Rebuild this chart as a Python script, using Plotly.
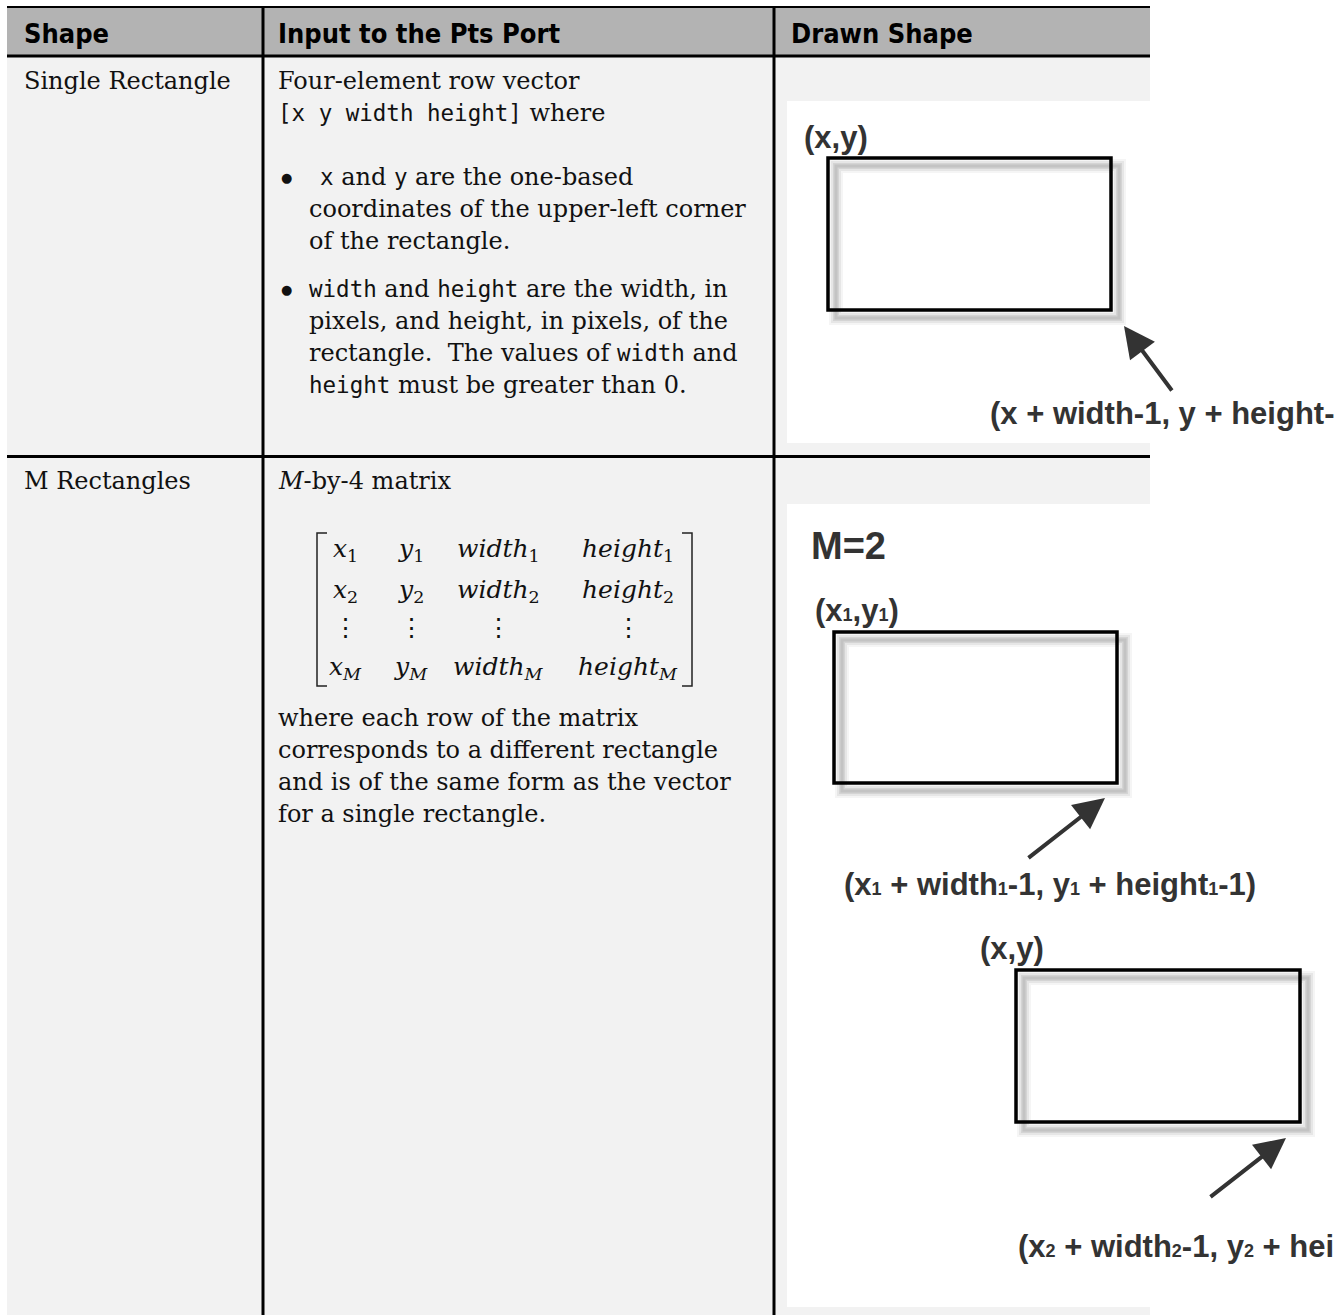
import plotly.graph_objects as go

W, H = 1337, 1315

# ---------------- content ----------------
headers = ["Shape", "Input to the Pts Port", "Drawn Shape"]
shape_names = ["Single Rectangle", "M Rectangles"]

MONO = "font-family:DejaVu Sans Mono;font-size:22.5px"
def code(s):
    return f'<span style="{MONO}">{s}</span>'

row1_intro = ["Four-element row vector", code("[x y width height]") + " where"]
row1_bullets = [
    [f"{code('x')} and {code('y')} are the one-based",
     "coordinates of the upper-left corner",
     "of the rectangle."],
    [f"{code('width')} and {code('height')} are the width, in",
     "pixels, and height, in pixels, of the",
     f"rectangle.  The values of {code('width')} and",
     f"{code('height')} must be greater than 0."],
]
row2_intro = "<i>M</i>-by-4 matrix"
matrix_names = ["x", "y", "width", "height"]
matrix_subs = ["1", "2", None, "M"]
row2_after = ["where each row of the matrix",
              "corresponds to a different rectangle",
              "and is of the same form as the vector",
              "for a single rectangle."]

def small(s):
    return f'<span style="font-size:18px">{s}</span>'

# labels exactly as visible in the (cropped) reference picture
single_labels = ["(x,y)", "(x + width-1, y + height-"]
multi_title = "M=2"
multi_labels = [f"(x{small('1')},y{small('1')})",
                f"(x{small('1')} + width{small('1')}-1, y{small('1')} + height{small('1')}-1)",
                "(x,y)",
                f"(x{small('2')} + width{small('2')}-1, y{small('2')} + hei"]

# ---------------- style ----------------
SERIF = "DejaVu Serif"
HEAD = "DejaVu Sans Condensed, DejaVu Sans"
ARIAL = "Liberation Sans"
TXT = "#111111"
LBL = "#333333"
HDR_BG = "#b3b3b3"
BODY_BG = "#f2f2f2"
FS = 24

fig = go.Figure()
fig.add_trace(go.Scatter(x=[0], y=[0], mode="markers", marker=dict(opacity=0),
                         hoverinfo="skip", showlegend=False))

shapes = []
ann = []

def rect(x0, y0, x1, y1, fill=None, line_color=None, lw=0):
    shapes.append(dict(type="rect", xref="x", yref="y", x0=x0, y0=y0, x1=x1, y1=y1,
                       fillcolor=fill if fill else "rgba(0,0,0,0)",
                       line=dict(color=line_color if line_color else "rgba(0,0,0,0)", width=lw),
                       layer="above"))

def line(x0, y0, x1, y1, color="black", lw=2):
    shapes.append(dict(type="line", xref="x", yref="y", x0=x0, y0=y0, x1=x1, y1=y1,
                       line=dict(color=color, width=lw), layer="above"))

def text(x, y, s, size, family=SERIF, color=TXT, xanchor="left", bold=False):
    ann.append(dict(x=x, y=y, xref="x", yref="y", text=s, showarrow=False,
                    xanchor=xanchor, yanchor="middle",
                    font=dict(size=size, family=family, color=color,
                              weight="bold" if bold else "normal")))

def arrow(tip, tail):
    ann.append(dict(x=tip[0], y=tip[1], ax=tail[0], ay=tail[1], xref="x", yref="y",
                    axref="x", ayref="y", text="", showarrow=True, arrowhead=2,
                    arrowsize=1.55, arrowwidth=4, arrowcolor=LBL, standoff=0))

def drawn_rect(x0, y0, x1, y1):
    d = 8
    for lw, a in [(14, 0.04), (10, 0.06), (6, 0.08), (3, 0.08)]:
        rect(x0 + d, y0 + d, x1 + d, y1 + d, line_color=f"rgba(0,0,0,{a})", lw=lw)
    rect(x0, y0, x1, y1, line_color="black", lw=3.5)

# table backgrounds
L, R = 7, 1150
rect(L, 7, R, 56, fill=HDR_BG)
rect(L, 56, R, H + 5, fill=BODY_BG)
# image areas
rect(787, 101, W + 5, 443, fill="white")
rect(787, 504, W + 5, 1307, fill="white")
# table lines
line(L, 7, R, 7, lw=2)
line(L, 56, R, 56, lw=3)
line(L, 456.5, R, 456.5, lw=3)
line(263, 7, 263, H + 5, lw=3)
line(774, 7, 774, H + 5, lw=3)

# header text
for hx, h in zip([22, 276, 789], headers):
    text(hx, 33, h, 27, family=HEAD, color="#000", bold=True)

# row labels
for ry, s in zip([81, 481], shape_names):
    text(22, ry, s, FS)

# row 1 description
LH = 32
for i, s in enumerate(row1_intro):
    text(276, 81 + i * LH, s, FS)
b_y = [177, 289]
for by, blines in zip(b_y, row1_bullets):
    text(286, by, "●", 13, family="DejaVu Sans", xanchor="center")
    for j, s in enumerate(blines):
        text(318 if (j == 0 and by == 177) else 307, by + j * LH, s, FS)

# row 2 description
text(276, 481, row2_intro, FS)
col_x = [345, 411, 498, 628]
row_y = [550, 591, 627, 668]
for ry, sub in zip(row_y, matrix_subs):
    for cx, nm in zip(col_x, matrix_names):
        if sub is None:
            s = "⋮"
        elif sub == "M":
            s = f"<i>{nm}</i><sub><i>{sub}</i></sub>"
        else:
            s = f"<i>{nm}</i><sub>{sub}</sub>"
        text(cx, ry, s, 25, xanchor="center")
# brackets
for xs in [(327, 317), (682, 692)]:
    shapes.append(dict(type="path", xref="x", yref="y",
                       path=f"M {xs[0]},533 L {xs[1]},533 L {xs[1]},686 L {xs[0]},686",
                       line=dict(color="#222", width=1.5), layer="above"))
for i, s in enumerate(row2_after):
    text(276, 718 + i * LH, s, FS)

LF = 31
# drawn shape 1
drawn_rect(828, 158, 1111, 310)
text(802, 137, single_labels[0], LF, family=ARIAL, color=LBL, bold=True)
arrow((1124, 326), (1173, 392))
text(1336, 413, single_labels[1], LF, family=ARIAL, color=LBL, bold=True, xanchor="right")

# drawn shape 2
text(809, 546, multi_title, 38, family=ARIAL, color=LBL, bold=True)
text(813, 610, multi_labels[0], LF, family=ARIAL, color=LBL, bold=True)
drawn_rect(834, 632, 1117, 783)
arrow((1105, 798), (1027, 859))
text(842, 884, multi_labels[1], LF, family=ARIAL, color=LBL, bold=True)
text(978, 948, multi_labels[2], LF, family=ARIAL, color=LBL, bold=True)
drawn_rect(1016, 970, 1300, 1122)
arrow((1286, 1138), (1209, 1198))
text(1336, 1246, multi_labels[3], LF, family=ARIAL, color=LBL, bold=True, xanchor="right")

fig.update_layout(
    width=W, height=H, margin=dict(l=0, r=0, t=0, b=0),
    paper_bgcolor="white", plot_bgcolor="white",
    xaxis=dict(range=[0, W], visible=False, fixedrange=True),
    yaxis=dict(range=[H, 0], visible=False, fixedrange=True),
    shapes=shapes, annotations=ann, showlegend=False,
)

fig.write_html("out.html", config={"displayModeBar": False},
               post_script="document.body.style.margin='0px';document.body.style.overflow='hidden';")
